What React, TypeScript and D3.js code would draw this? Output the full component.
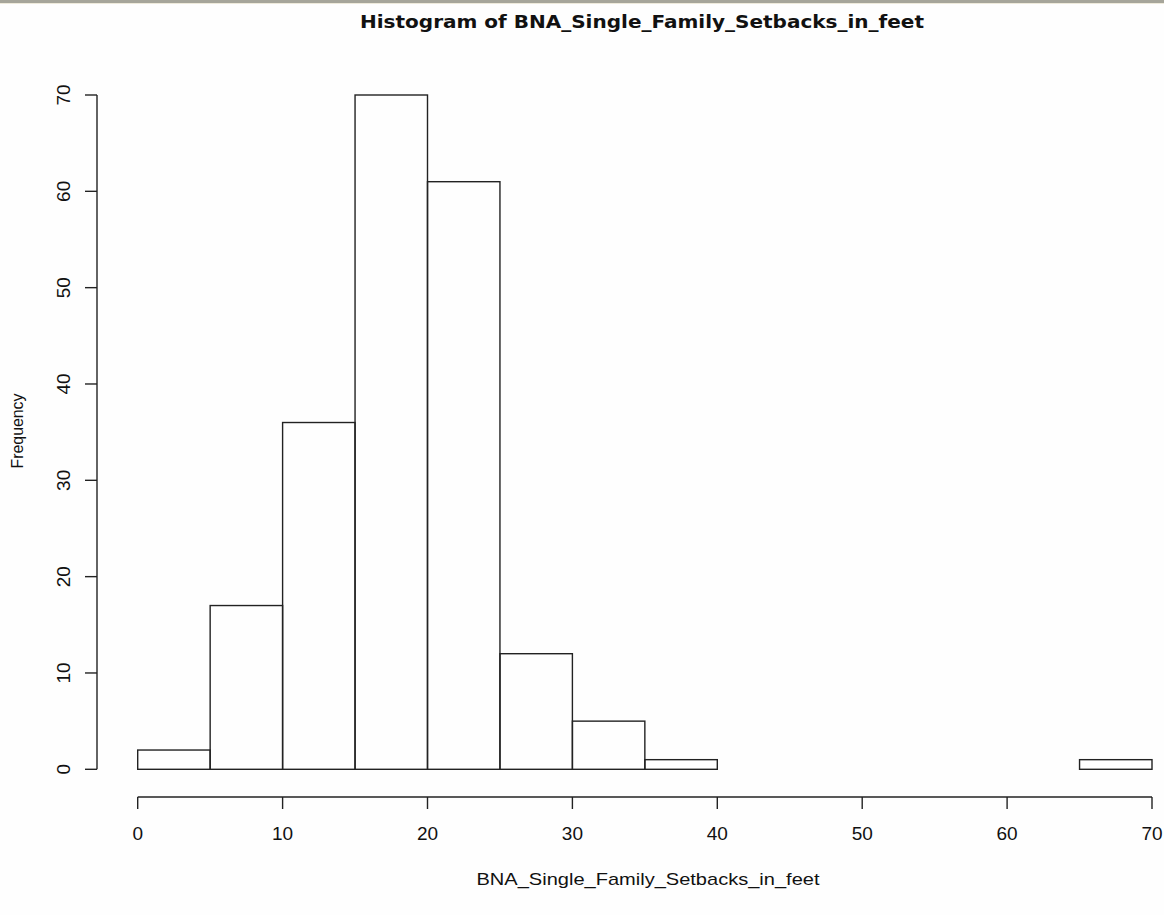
import React from "react";
import * as d3 from "d3";

const binStarts = [0, 5, 10, 15, 20, 25, 30, 35, 40, 45, 50, 55, 60, 65];
const binWidth = 5;
const counts = [2, 17, 36, 70, 61, 12, 5, 1, 0, 0, 0, 0, 0, 1];
const xTicks = [0, 10, 20, 30, 40, 50, 60, 70];
const yTicks = [0, 10, 20, 30, 40, 50, 60, 70];
const title = "Histogram of BNA_Single_Family_Setbacks_in_feet";
const xLabel = "BNA_Single_Family_Setbacks_in_feet";
const yLabel = "Frequency";

export default function App() {
  const W = 1164, H = 915;
  const x = d3.scaleLinear().domain([0, 70]).range([137.7, 1152]);
  const y = d3.scaleLinear().domain([0, 70]).range([769.3, 95]);
  const font = "'Liberation Sans', Arial, sans-serif";
  const stroke = "#222";
  const xAxisY = 797;
  const yAxisX = 97;
  return (
    <svg width={W} height={H} style={{ position: "absolute", left: 0, top: 0, background: "#fefefe" }}>
      <rect x={0} y={0} width={W} height={H} fill="#fefefe" />
      <rect x={0} y={0} width={W} height={3} fill="#a6a59a" />
      <rect x={0} y={3} width={W} height={1} fill="#eeeadb" />
      <text x={642} y={28} textAnchor="middle" fontFamily="'DejaVu Sans', sans-serif" fontWeight="bold" fontSize={17.5} fill="#111" textLength={564} lengthAdjust="spacingAndGlyphs">{title}</text>
      {counts.map((c, i) => (
        <rect key={i} x={x(binStarts[i])} y={y(c)} width={x(binStarts[i] + binWidth) - x(binStarts[i])} height={y(0) - y(c)} fill="none" stroke={stroke} strokeWidth={1.4} />
      ))}
      {/* x axis */}
      <line x1={x(xTicks[0])} x2={x(xTicks[xTicks.length - 1])} y1={xAxisY} y2={xAxisY} stroke={stroke} strokeWidth={1.4} />
      {xTicks.map((t) => (
        <g key={t}>
          <line x1={x(t)} x2={x(t)} y1={xAxisY} y2={xAxisY + 12} stroke={stroke} strokeWidth={1.4} />
          <text x={x(t)} y={840} textAnchor="middle" fontFamily={font} fontSize={19} fill="#111">{t}</text>
        </g>
      ))}
      {/* y axis */}
      <line x1={yAxisX} x2={yAxisX} y1={y(yTicks[0])} y2={y(yTicks[yTicks.length - 1])} stroke={stroke} strokeWidth={1.4} />
      {yTicks.map((t) => (
        <g key={t}>
          <line x1={yAxisX} x2={yAxisX - 12} y1={y(t)} y2={y(t)} stroke={stroke} strokeWidth={1.4} />
          <text transform={`translate(70,${y(t)}) rotate(-90)`} textAnchor="middle" fontFamily={font} fontSize={19} fill="#111">{t}</text>
        </g>
      ))}
      <text x={648} y={885} textAnchor="middle" fontFamily={font} fontSize={17} fill="#111" textLength={343} lengthAdjust="spacingAndGlyphs">{xLabel}</text>
      <text transform={`translate(23,431) rotate(-90)`} textAnchor="middle" fontFamily={font} fontSize={17} fill="#111" textLength={75} lengthAdjust="spacingAndGlyphs">{yLabel}</text>
    </svg>
  );
}
